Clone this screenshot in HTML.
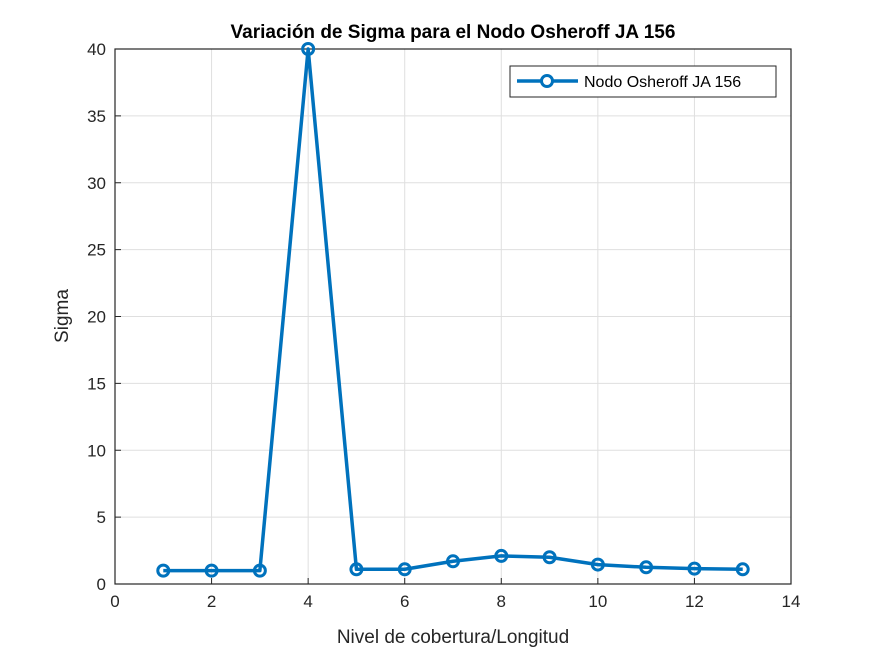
<!DOCTYPE html>
<html><head><meta charset="utf-8"><style>body{margin:0;background:#fff}svg{display:block;font-family:"Liberation Sans",sans-serif}</style></head>
<body>
<svg id="c" width="875" height="656"></svg>
<script>
const categories=[1,2,3,4,5,6,7,8,9,10,11,12,13];
const sigmaValues=[1,1,1,40,1.1,1.1,1.7,2.1,2.0,1.45,1.25,1.15,1.1];
const xTicks=[0,2,4,6,8,10,12,14];
const yTicks=[0,5,10,15,20,25,30,35,40];
const L=115,R=791,T=49,B=584;
const sx=v=>L+(v-0)/14*(R-L), sy=v=>B-(v/40)*(B-T);
const svg=document.getElementById('c');const NS='http://www.w3.org/2000/svg';
function mk(t,a,p){const e=document.createElementNS(NS,t);for(const k in a)e.setAttribute(k,a[k]);(p||svg).appendChild(e);return e;}
mk('rect',{x:L,y:T,width:R-L,height:B-T,fill:'#fff'});
xTicks.forEach(v=>{const x=sx(v);
const g=mk('line',{x1:x,x2:x,y1:T,y2:B,stroke:'#dfdfdf','stroke-width':1});

mk('line',{x1:x,x2:x,y1:B,y2:B-6,stroke:'#262626'});
const t=mk('text',{x:x,y:B+23,'text-anchor':'middle','font-size':17,fill:'#262626'});t.textContent=v;
});
yTicks.forEach(v=>{const y=sy(v);
const g=mk('line',{x1:L,x2:R,y1:y,y2:y,stroke:'#dfdfdf','stroke-width':1});

mk('line',{x1:L,x2:L+6,y1:y,y2:y,stroke:'#262626'});
const t=mk('text',{x:L-9,y:y+6,'text-anchor':'end','font-size':17,fill:'#262626'});t.textContent=v;
});
const box=mk('rect',{x:L,y:T,width:R-L,height:B-T,fill:'none',stroke:'#262626','stroke-width':1.2});

const pts=categories.map((c,i)=>sx(c)+','+sy(sigmaValues[i])).join(' ');
const ln=mk('polyline',{points:pts,fill:'none',stroke:'#0072bd','stroke-width':3.5,'stroke-linejoin':'round'});

categories.forEach((c,i)=>{const m=mk('circle',{cx:sx(c),cy:sy(sigmaValues[i]),r:5.5,fill:'none',stroke:'#0072bd','stroke-width':3});
});
const tt=mk('text',{x:453,y:38,'text-anchor':'middle','font-size':19,'font-weight':'bold',fill:'#000'});tt.textContent='Variación de Sigma para el Nodo Osheroff JA 156';

const xl=mk('text',{x:453,y:643,'text-anchor':'middle','font-size':19,fill:'#262626'});xl.textContent='Nivel de cobertura/Longitud';

const yl=mk('text',{x:68,y:316,'text-anchor':'middle','font-size':19,fill:'#262626',transform:'rotate(-90 68 316)'});yl.textContent='Sigma';

const lg=mk('g',{});
mk('rect',{x:510,y:66,width:266,height:31,fill:'#fff',stroke:'#262626','stroke-width':1},lg);
mk('line',{x1:517,x2:578,y1:81,y2:81,stroke:'#0072bd','stroke-width':3.5},lg);
mk('circle',{cx:547,cy:81,r:5.5,fill:'#fff',stroke:'#0072bd','stroke-width':3},lg);
const lt=mk('text',{x:584,y:87,'font-size':16,fill:'#000'},lg);lt.textContent='Nodo Osheroff JA 156';

</script>
</body></html>
